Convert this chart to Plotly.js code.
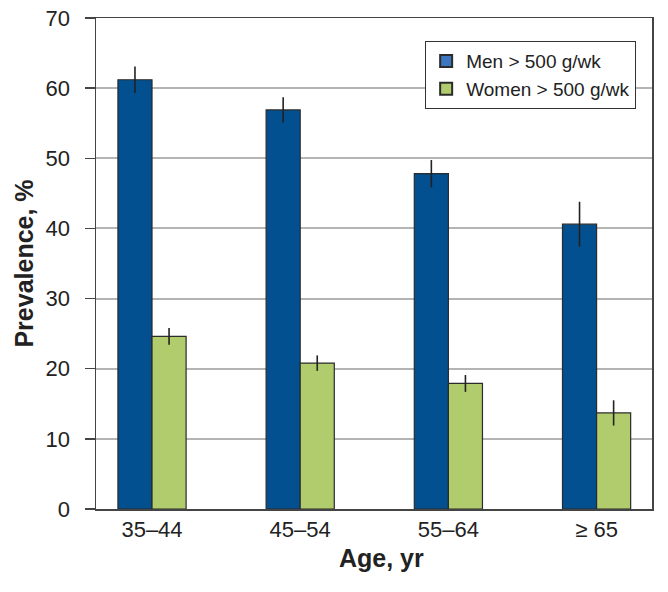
<!DOCTYPE html>
<html>
<head>
<meta charset="utf-8">
<script src="https://cdn.plot.ly/plotly-3.0.1.min.js"></script>
<style>html,body{margin:0;padding:0;background:#fff;}#chart{width:668px;height:592px;}</style>
</head>
<body>
<div id="chart"></div>
<script>
const categories = ["35–44", "45–54", "55–64", "≥ 65"];
const menValues = [61.2, 56.9, 47.8, 40.6];
const menErr = [1.9, 1.8, 1.95, 3.2];
const womenValues = [24.6, 20.8, 17.9, 13.7];
const womenErr = [1.2, 1.1, 1.2, 1.8];
const seriesNames = ["Men > 500 g/wk", "Women > 500 g/wk"];
const yTicks = [0, 10, 20, 30, 40, 50, 60, 70];
const xTitle = "Age, yr";
const yTitle = "Prevalence, %";

const barLine = {color: "#2b2b2b", width: 1.2};
const errStyle = {type: "data", visible: true, thickness: 1.6, width: 0, color: "#222"};

const data = [
  {type: "bar", x: categories, y: menValues, name: seriesNames[0], showlegend: false,
   width: 0.23, offset: -0.23,
   marker: {color: "#02508f", line: barLine},
   error_y: Object.assign({array: menErr}, errStyle), hoverinfo: "skip"},
  {type: "bar", x: categories, y: womenValues, name: seriesNames[1], showlegend: false,
   width: 0.23, offset: 0,
   marker: {color: "#b0cc6c", line: barLine},
   error_y: Object.assign({array: womenErr}, errStyle), hoverinfo: "skip"},
  {type: "bar", x: [categories[0]], y: [null], name: seriesNames[0], showlegend: true,
   width: 0.23, offset: -0.23,
   marker: {color: "#3b76bf", line: barLine}},
  {type: "bar", x: [categories[0]], y: [null], name: seriesNames[1], showlegend: true,
   width: 0.23, offset: 0,
   marker: {color: "#b0cc6c", line: barLine}}
];

const layout = {
  width: 668, height: 592,
  margin: {l: 96, r: 16, t: 18, b: 83},
  paper_bgcolor: "#fff", plot_bgcolor: "#fff",
  font: {family: "Liberation Sans, Arial, sans-serif", color: "#222"},
  barmode: "overlay",
  showlegend: true,
  legend: {x: 0.592, y: 0.953, xanchor: "left", yanchor: "top",
           bgcolor: "#fff", bordercolor: "#333", borderwidth: 1,
           font: {size: 19, color: "#222"}, traceorder: "normal",
           itemsizing: "constant"},
  xaxis: {
    type: "category", range: [-0.378, 3.374],
    showline: true, linecolor: "#444", linewidth: 1.5, mirror: true,
    ticks: "", showgrid: false, zeroline: false,
    tickfont: {size: 22, color: "#222"}
  },
  yaxis: {
    range: [0, 70], tickvals: yTicks,
    showline: true, linecolor: "#444", linewidth: 1.5, mirror: true,
    ticks: "outside", ticklen: 10, tickcolor: "#444", tickwidth: 1.5,
    showgrid: true, gridcolor: "#b4b4b4", gridwidth: 2, zeroline: false,
    tickfont: {size: 22, color: "#222"}, ticklabelstandoff: 10,
    title: {text: "<b>" + yTitle + "</b>", font: {size: 25, color: "#222"}, standoff: 5}
  },
  annotations: [
    {text: "<b>" + xTitle + "</b>", xref: "paper", yref: "paper",
     x: 0.514, y: -0.0998, xanchor: "center", yanchor: "middle",
     showarrow: false, font: {size: 25, color: "#222"}}
  ]
};

Plotly.newPlot("chart", data, layout, {displayModeBar: false, staticPlot: true});
</script>
</body>
</html>
